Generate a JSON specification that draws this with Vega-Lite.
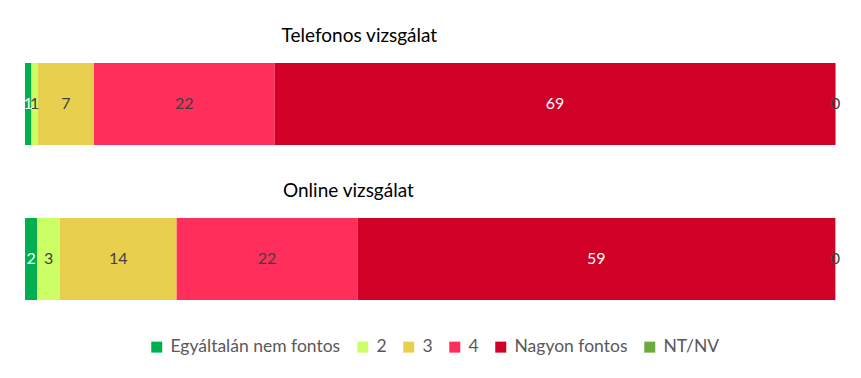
{
  "$schema": "https://vega.github.io/schema/vega-lite/v6.json",
  "padding": {"left": 23, "right": 25, "top": 27, "bottom": 5},
  "background": "white",
  "datasets": {
    "rows": [
      {"survey": "Telefonos vizsgálat", "cat": "Egyáltalán nem fontos", "order": 1, "value": 0.8},
      {"survey": "Telefonos vizsgálat", "cat": "2", "order": 2, "value": 0.8},
      {"survey": "Telefonos vizsgálat", "cat": "3", "order": 3, "value": 6.9},
      {"survey": "Telefonos vizsgálat", "cat": "4", "order": 4, "value": 22.3},
      {"survey": "Telefonos vizsgálat", "cat": "Nagyon fontos", "order": 5, "value": 69.1},
      {"survey": "Telefonos vizsgálat", "cat": "NT/NV", "order": 6, "value": 0.1},
      {"survey": "Online vizsgálat", "cat": "Egyáltalán nem fontos", "order": 1, "value": 1.5},
      {"survey": "Online vizsgálat", "cat": "2", "order": 2, "value": 2.8},
      {"survey": "Online vizsgálat", "cat": "3", "order": 3, "value": 14.4},
      {"survey": "Online vizsgálat", "cat": "4", "order": 4, "value": 22.3},
      {"survey": "Online vizsgálat", "cat": "Nagyon fontos", "order": 5, "value": 58.9},
      {"survey": "Online vizsgálat", "cat": "NT/NV", "order": 6, "value": 0.05}
    ]
  },
  "config": {
    "view": {"stroke": null},
    "font": "Lato",
    "title": {"fontSize": 19, "fontWeight": "normal", "color": "#000000", "anchor": "start", "offset": 17, "font": "Lato"}
  },
  "spacing": 37,
  "resolve": {"scale": {"color": "shared"}},
  "vconcat": [
    {
      "title": {"text": "Telefonos vizsgálat", "dx": 258},
      "width": 811,
      "height": 82,
      "data": {"name": "rows"},
      "transform": [
        {"filter": "datum.survey === 'Telefonos vizsgálat'"},
        {"stack": "value", "groupby": ["survey"], "sort": [{"field": "order"}], "as": ["x0", "x1"]},
        {"calculate": "(datum.x0 + datum.x1) / 2", "as": "mid"}
      ],
      "encoding": {
        "y": {"field": "survey", "type": "nominal", "axis": null, "scale": {"paddingInner": 0, "paddingOuter": 0}}
      },
      "layer": [
        {
          "mark": {"type": "bar"},
          "encoding": {
            "x": {"field": "x0", "type": "quantitative", "axis": null, "scale": {"domain": [0, 100], "nice": false}},
            "x2": {"field": "x1"},
            "color": {
              "field": "cat", "type": "nominal",
              "scale": {"domain": ["Egyáltalán nem fontos", "2", "3", "4", "Nagyon fontos", "NT/NV"], "range": ["#00B050", "#CCFF66", "#E8D04E", "#FF2E5A", "#D10027", "#6AAB3C"]},
              "legend": {"orient": "none", "legendX": 123, "legendY": 275, "direction": "horizontal", "title": null, "symbolType": "square", "symbolSize": 121, "symbolStrokeWidth": 0, "symbolOpacity": 1, "labelFontSize": 17.5, "labelColor": "#595959", "labelFont": "Lato", "labelOffset": 5, "labelLimit": 400, "columnPadding": 13}
            }
          }
        },
        {
          "mark": {"type": "text", "fontSize": 16, "font": "Lato"},
          "encoding": {
            "x": {"field": "mid", "type": "quantitative"},
            "text": {"field": "value", "type": "quantitative", "format": ".0f"},
            "color": {"condition": {"test": "datum.order === 1 || datum.order === 5", "value": "#FFFFFF"}, "value": "#404040"}
          }
        }
      ]
    },
    {
      "title": {"text": "Online vizsgálat", "dx": 258},
      "width": 811,
      "height": 82,
      "data": {"name": "rows"},
      "transform": [
        {"filter": "datum.survey === 'Online vizsgálat'"},
        {"stack": "value", "groupby": ["survey"], "sort": [{"field": "order"}], "as": ["x0", "x1"]},
        {"calculate": "(datum.x0 + datum.x1) / 2", "as": "mid"}
      ],
      "encoding": {
        "y": {"field": "survey", "type": "nominal", "axis": null, "scale": {"paddingInner": 0, "paddingOuter": 0}}
      },
      "layer": [
        {
          "mark": {"type": "bar"},
          "encoding": {
            "x": {"field": "x0", "type": "quantitative", "axis": null, "scale": {"domain": [0, 100], "nice": false}},
            "x2": {"field": "x1"},
            "color": {"field": "cat", "type": "nominal"}
          }
        },
        {
          "mark": {"type": "text", "fontSize": 16, "font": "Lato"},
          "encoding": {
            "x": {"field": "mid", "type": "quantitative"},
            "text": {"field": "value", "type": "quantitative", "format": ".0f"},
            "color": {"condition": {"test": "datum.order === 1 || datum.order === 5", "value": "#FFFFFF"}, "value": "#404040"}
          }
        }
      ]
    }
  ]
}
